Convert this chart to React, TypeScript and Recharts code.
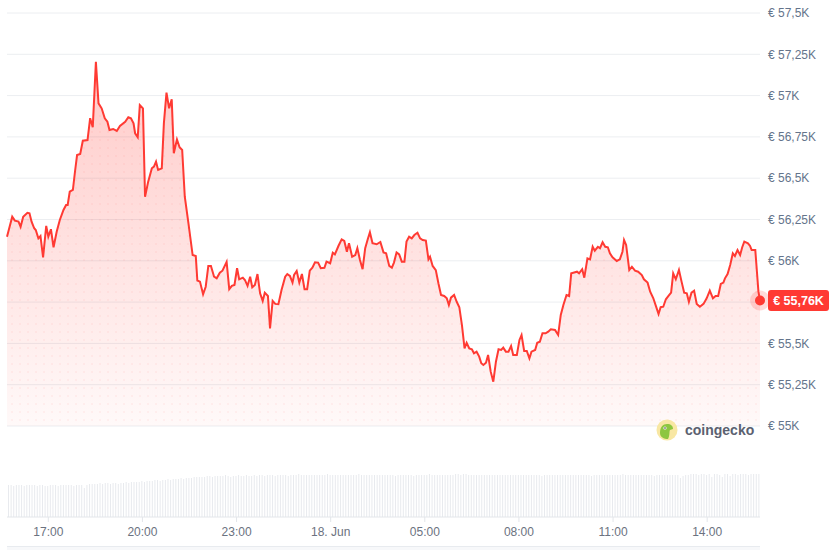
import { AreaChart, Area, BarChart, Bar, XAxis, YAxis, CartesianGrid, ReferenceDot } from 'recharts'

// minutes since 17 Jun 15:41
const priceTimes = [
  0, 10, 15, 22, 26, 31, 39, 43, 47, 52, 55, 60, 64, 69, 75, 79, 84, 89, 95, 101,
  108, 113, 116, 120, 126, 130, 134, 140, 145, 154, 159, 164, 170, 175, 181, 187, 192, 196, 203, 210,
  216, 226, 232, 237, 242, 245, 250, 254, 260, 264, 270, 277, 281, 285, 289, 296, 300, 305, 310, 315,
  319, 325, 330, 335, 340, 347, 355, 361, 364, 369, 375, 380, 385, 390, 396, 401, 407, 412, 420, 425,
  430, 435, 440, 444, 451, 455, 460, 465, 469, 474, 479, 484, 489, 493, 499, 503, 508, 513, 519, 525,
  532, 536, 541, 546, 549, 554, 559, 564, 569, 574, 579, 584, 589, 595, 600, 607, 611, 618, 623, 627,
  634, 640, 645, 650, 654, 660, 666, 670, 675, 680, 685, 690, 694, 699, 707, 714, 720, 725, 731, 736,
  740, 745, 750, 755, 760, 764, 769, 774, 779, 785, 790, 795, 801, 806, 809, 814, 820, 825, 830, 836,
  841, 845, 849, 855, 860, 865, 870, 875, 879, 884, 889, 893, 898, 903, 907, 911, 916, 920, 925, 930,
  935, 940, 945, 949, 954, 959, 964, 968, 975, 980, 984, 989, 994, 999, 1003, 1010, 1014, 1019, 1024, 1030,
  1035, 1040, 1048, 1054, 1059, 1064, 1070, 1075, 1079, 1083, 1090, 1094, 1100, 1104, 1110, 1115, 1120, 1124, 1130, 1134,
  1139, 1144, 1149, 1153, 1158, 1166, 1172, 1177, 1180, 1184, 1190, 1195, 1201, 1207, 1214, 1218, 1225, 1230, 1236, 1241,
  1246, 1250, 1255, 1260, 1265, 1270, 1274, 1279, 1285, 1290, 1295, 1300, 1304, 1309, 1314, 1319, 1325, 1332, 1338, 1344,
  1350, 1355, 1360, 1365, 1370, 1373, 1378, 1383, 1388, 1392, 1397, 1402, 1406, 1410, 1417, 1421, 1424, 1431, 1437, 1440,
]

// BTC price in EUR
const prices = [
  56146, 56267, 56243, 56237, 56206, 56267, 56291, 56288, 56237, 56197, 56186, 56136, 56150, 56021, 56211, 56146, 56191, 56082, 56176, 56247,
  56308, 56338, 56338, 56418, 56429, 56539, 56640, 56647, 56727, 56731, 56863, 56808, 57205, 56953, 56923, 56863, 56842, 56792, 56798, 56786,
  56816, 56842, 56869, 56863, 56832, 56772, 56748, 56943, 56923, 56388, 56479, 56560, 56570, 56600, 56550, 56560, 56832, 57018, 56923, 56978,
  56651, 56735, 56687, 56671, 56388, 56227, 56035, 56029, 55881, 55874, 55797, 55843, 55969, 55969, 55904, 55894, 55928, 55940, 55993, 55828,
  55848, 55854, 55955, 55888, 55898, 55884, 55848, 55904, 55840, 55854, 55920, 55803, 55757, 55807, 55787, 55591, 55757, 55739, 55737, 55823,
  55904, 55920, 55908, 55868, 55914, 55938, 55868, 55920, 55828, 55828, 55940, 55958, 55991, 55989, 55955, 55958, 55995, 55985, 56049, 56039,
  56091, 56130, 56120, 56055, 56106, 56025, 56035, 56076, 56005, 55949, 56076, 56132, 56173, 56106, 56100, 56114, 56051, 56045, 55969, 55958,
  55989, 56051, 56039, 55995, 55995, 56116, 56146, 56136, 56156, 56170, 56136, 56126, 56122, 56009, 56025, 55969, 55944, 55864, 55793, 55787,
  55773, 55732, 55777, 55793, 55752, 55719, 55611, 55470, 55504, 55470, 55464, 55440, 55450, 55420, 55380, 55369, 55383, 55430, 55329, 55268,
  55389, 55464, 55460, 55474, 55450, 55450, 55484, 55430, 55430, 55521, 55551, 55454, 55454, 55410, 55450, 55460, 55504, 55510, 55561, 55561,
  55571, 55585, 55581, 55551, 55672, 55732, 55793, 55787, 55924, 55928, 55934, 55924, 55949, 55898, 56015, 56009, 56085, 56061, 56085, 56076,
  56112, 56085, 56082, 56045, 56021, 55999, 56009, 56055, 56126, 56096, 55944, 55964, 55940, 55934, 55914, 55888, 55868, 55813, 55773, 55726,
  55678, 55719, 55722, 55767, 55787, 55807, 55924, 55888, 55944, 55874, 55807, 55803, 55752, 55807, 55819, 55739, 55722, 55739, 55773, 55819,
  55773, 55787, 55787, 55860, 55868, 55894, 55920, 55975, 56045, 56029, 56065, 56035, 56082, 56116, 56106, 56090, 56065, 56065, 55813, 55760,
]

// volume, one bar per 5 minutes (EUR bn, rolling)
const volumes = [
  32, 32, 31, 32, 32, 32, 31, 32, 32, 32, 32, 31, 32, 32, 31, 31, 32, 32, 32, 31, 32, 32, 32, 32,
  32, 31, 32, 32, 32, 29, 32, 33, 33, 33, 33, 34, 33, 34, 34, 33, 34, 34, 33, 34, 34, 35, 34, 35,
  35, 35, 35, 36, 35, 36, 36, 36, 37, 37, 36, 37, 37, 38, 37, 38, 38, 38, 39, 38, 39, 39, 39, 40,
  40, 40, 40, 40, 41, 41, 40, 41, 41, 41, 41, 42, 41, 40, 41, 41, 42, 41, 41, 42, 41, 41, 42, 41,
  42, 42, 41, 42, 42, 42, 41, 42, 42, 42, 42, 41, 42, 42, 42, 43, 42, 42, 42, 42, 42, 42, 42, 42,
  42, 42, 43, 42, 42, 42, 42, 42, 42, 42, 42, 42, 42, 42, 43, 42, 42, 42, 42, 42, 42, 42, 42, 42,
  42, 42, 42, 42, 41, 42, 42, 42, 42, 42, 42, 41, 42, 42, 42, 42, 42, 43, 42, 42, 42, 42, 42, 42,
  42, 42, 42, 43, 43, 42, 43, 43, 42, 42, 42, 42, 42, 42, 42, 42, 42, 42, 42, 42, 42, 42, 42, 42,
  42, 42, 42, 42, 42, 42, 42, 42, 42, 42, 42, 42, 41, 42, 42, 42, 42, 42, 42, 42, 42, 42, 42, 42,
  42, 42, 42, 42, 42, 42, 42, 41, 42, 42, 42, 42, 42, 42, 42, 42, 42, 42, 42, 43, 42, 42, 42, 42,
  42, 42, 42, 42, 42, 42, 42, 41, 42, 42, 42, 42, 42, 42, 42, 42, 42, 39, 41, 42, 42, 43, 43, 43,
  42, 43, 43, 42, 43, 40, 43, 43, 42, 40, 43, 43, 41, 43, 43, 42, 43, 43, 43, 42, 43, 43, 43, 43,
]

const priceTicks = [55000, 55250, 55500, 55750, 56000, 56250, 56500, 56750, 57000, 57250, 57500]
const timeTicks = [79, 259, 439, 619, 799, 979, 1159, 1339]
const timeLabels = ['17:00', '20:00', '23:00', '18. Jun', '05:00', '08:00', '11:00', '14:00']

const priceData = priceTimes.map((t, i) => ({ t, price: prices[i] }))
const volumeData = volumes.map((v, i) => ({ t: i * 5 + 2.5, vol: v }))
const last = priceData[priceData.length - 1]

const RED = '#ff3a33'
const fmtEur = (v: number) => '€ ' + String(v / 1000).replace('.', ',') + 'K'
// the 55,75K label sits under the current-price badge, so it is left blank
const fmtTick = (v: number) => (v === 55750 ? '' : fmtEur(v))

function LastPrice(props: any) {
  const { cx, cy } = props
  if (cx == null || cy == null) return null
  return (
    <g>
      <circle cx={cx} cy={cy} r={10} fill={RED} fillOpacity={0.18} />
      <circle cx={cx} cy={cy} r={5} fill={RED} />
      <rect x={cx + 8} y={cy - 10.5} width={61} height={21} rx={3} fill={RED} />
      <text x={cx + 38.5} y={cy} dy="0.36em" textAnchor="middle" fill="#fff" fontSize={12.5} fontWeight={600}>
        {fmtEur(Math.round(last.price / 10) * 10)}
      </text>
    </g>
  )
}

export default function App() {
  return (
    <div style={{ position: 'absolute', left: 0, top: 0, width: 839, height: 550, background: '#fff', fontFamily: '"Liberation Sans", Arial, sans-serif' }}>
      <div style={{ position: 'absolute', left: 0, top: 0 }}>
        <BarChart width={839} height={550} data={volumeData} margin={{ top: 470, right: 79, bottom: 0, left: 7 }}>
          <XAxis
            dataKey="t"
            type="number"
            domain={[0, 1440]}
            ticks={timeTicks}
            tickFormatter={(v: number) => timeLabels[timeTicks.indexOf(v)]}
            height={33}
            stroke="#e3e6ea"
            tickSize={5}
            tickMargin={5}
            tick={{ fill: '#6b7280', fontSize: 12 }}
            interval={0}
          />
          <YAxis hide domain={[0, 47]} />
          <Bar dataKey="vol" fill="#e8eaee" barSize={1} isAnimationActive={false} />
        </BarChart>
      </div>
      <div style={{ position: 'absolute', left: 0, top: 0 }}>
        <AreaChart width={839} height={440} data={priceData} margin={{ top: 13, right: 0, bottom: 14, left: 7 }}>
          <defs>
            <linearGradient id="priceFill" x1="0" y1="0" x2="0" y2="1">
              <stop offset="0%" stopColor={RED} stopOpacity={0.27} />
              <stop offset="100%" stopColor={RED} stopOpacity={0.03} />
            </linearGradient>
            <pattern id="dots" width="8" height="8" patternUnits="userSpaceOnUse">
              <circle cx="4" cy="4" r="1.1" fill={RED} fillOpacity={0.1} />
            </pattern>
          </defs>
          <CartesianGrid vertical={false} stroke="#eceef1" />
          <XAxis dataKey="t" type="number" domain={[0, 1440]} hide />
          <YAxis
            orientation="right"
            domain={[55000, 57500]}
            ticks={priceTicks}
            tickFormatter={fmtTick}
            axisLine={false}
            tickLine={false}
            width={79}
            tick={{ fill: '#64748b', fontSize: 12 }}
            interval={0}
          />
          <Area type="linear" dataKey="price" stroke="none" fill="url(#dots)" isAnimationActive={false} />
          <Area type="linear" dataKey="price" stroke={RED} strokeWidth={2} fill="url(#priceFill)" fillOpacity={1} isAnimationActive={false} />
          <ReferenceDot x={last.t} y={last.price} ifOverflow="visible" shape={<LastPrice />} />
        </AreaChart>
      </div>
      <div style={{ position: 'absolute', left: 656, top: 419, display: 'flex', alignItems: 'center' }}>
        <svg width={22} height={22}>
          <circle cx={11} cy={11} r={10.5} fill="#f8e7a3" />
          <path d="M4 14 C4 8 7 5 11 5 C15 5 17 7 17 10 L14 11 C13 13 14 17 12 20 C8 20 4 18 4 14 Z" fill="#8dc63f" />
          <circle cx={9} cy={9} r={1.6} fill="#fff" />
          <circle cx={9} cy={9} r={0.8} fill="#333" />
        </svg>
        <span style={{ marginLeft: 7, fontSize: 14, fontWeight: 700, color: '#5b6170', lineHeight: '22px' }}>coingecko</span>
      </div>
      <div style={{ position: 'absolute', left: 7, top: 546, width: 753, height: 4, borderTop: '1px solid #e8ebef', background: '#f7f8fa' }} />
    </div>
  )
}
